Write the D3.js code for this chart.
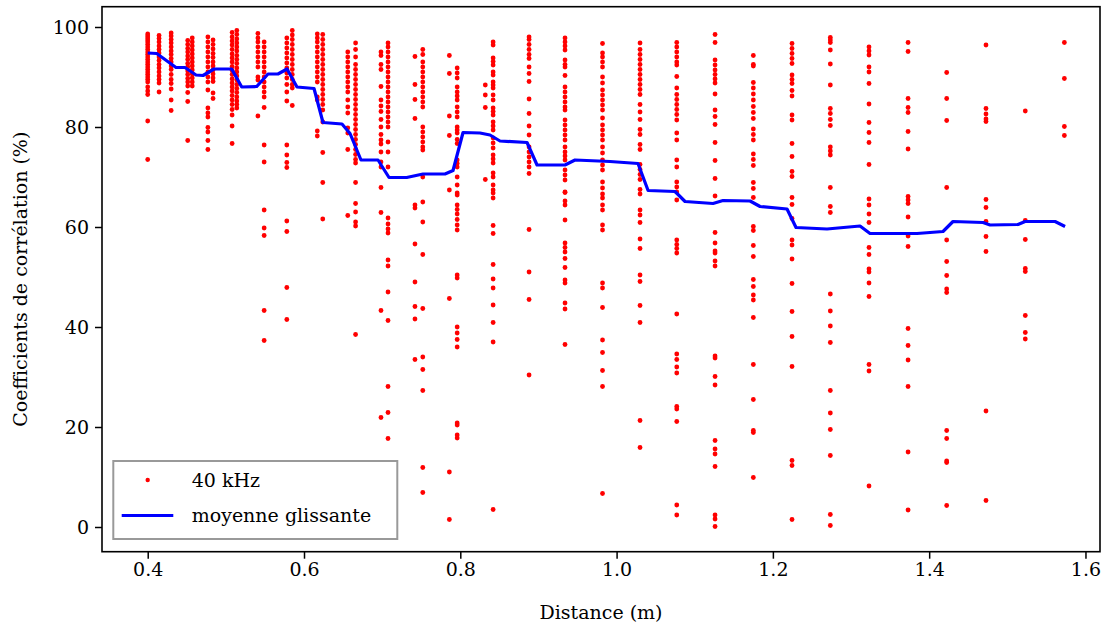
<!DOCTYPE html>
<html><head><meta charset="utf-8">
<script src="https://cdn.jsdelivr.net/npm/d3@7"></script>
<style>body{margin:0;background:#fff} svg{display:block} text{font-family:"DejaVu Serif",serif;fill:#000}</style>
</head><body><svg id="c" width="1103" height="630"></svg>
<script>
const distances = [0.400,0.4145,0.430,0.4512,0.4570,0.477,0.4836,0.508,0.514,0.541,0.549,0.578,0.585,0.617,0.624,0.656,0.666,0.6985,0.7075,0.742,0.752,0.786,0.796,0.832,0.842,0.888,0.934,0.982,1.030,1.077,1.126,1.175,1.2245,1.2735,1.323,1.373,1.4224,1.4727,1.523,1.573];
const correlations = [
 [98.6,98.2,97.8,97.4,97,96.5,96,95.5,95,94.5,94,93.5,93,92.5,92,91.5,91,90.5,90,89.5,89,88,87.2,86.5,81.2,73.5],
 [98.3,97.7,97,96.2,95.5,94.8,94,93.3,92.5,91.8,91,90.2,89.5,88.8,87],
 [98.8,98.2,97.5,96.8,96,95.2,94.5,93.7,93,92.2,91.5,90.5,89.5,88.7,87.6,85.4,83.3],
 [97.3,96.5,95.7,95,94.2,93.5,92.7,92,91.2,90.5,89.7,89,88.2,86.9,85.1,77.3],
 [97.8,97,96.2,95.4,94.6,93.8,93,92.2,91.4,90.6,89.8,89,88.2],
 [98,97,96,95,94,93,92,91,90,89,87.4,83.8,82.8,82,79.9,79,77.3,75.5],
 [97.4,96.5,95.6,94.7,93.9,93,92.2,91.4,90.6,89.8,89.1,86.8,85.7],
 [98.9,98,97.2,96.4,95.5,94.6,93.8,93,92.1,91.3,90.5,89.6,88.8,88,87.2,86.3,85.4,84.5,83.5,82.4,80.2,76.7],
 [99.3,98.5,97.6,96.8,96,95.2,94.3,93.5,92.7,91.8,91,90.2,89.4,88.5,87.7,86.9,86,85.2,84.5,83.8],
 [98.7,97.8,97,96,95,94,93,92,90,89.4,82.2],
 [97,96,95,94,93,92,91,90,89,88,87,86,83.9,76.4,73,63.4,59.8,58.3,43.3,37.3],
 [97.8,96.8,95.8,94.8,93.8,92.8,91.8,90.8,89.8,88.5,87,85.2,76.4,74.4,72.9,71.9,61.2,59.1,47.9,41.5],
 [99.3,98.4,97.5,96.5,95.5,94.5,93.5,92.5,91.5,90.5,89.5,88.5,87.8,84.3],
 [98.6,97.8,97,96,95,94,93,92,91,90,89,86,85.4,79.2,78.2],
 [98.5,97.5,96.5,95.5,94.5,93.5,92.5,91.5,90.5,89.5,88.5,87.5,86.5,85.5,84.5,83.4,81,74.9,68.9,61.6],
 [95,94,93,92,91,90,89,88,87,85.4,84,82.8,79.8,78.8,75.5,62.3],
 [96.8,95.5,94,92.5,91.5,90.5,89.5,88.5,87.5,86.5,85.5,84.5,83.5,82.5,81.5,80.5,79.5,78.5,77.5,76.5,75.5,74.5,73.5,72.8,68.9,64.7,63,61,60.2,38.5],
 [95,94.3,92.5,91.5,88.1,85.4,84.2,83.1,81.5,80,78.5,77.4,76.6,75,73,72,67.9,62.9,43.3,21.9],
 [96.8,96,95,94,93,92,91,90,89,88,87,86,85,84,83,82,81,80,77,75,72,61.8,60.6,59.6,58.8,53.4,52.2,47,41.3,28.1,22.9,17.7],
 [94.1,88.5,85.5,81.7,64.4,63.8,56.6,49,44.1,41.6,33.5],
 [95.5,94.5,93,92,91,90,89,88,87,86,85,84,80,79,78,77,76,75.4,70,65,61,54.5,43.7,34,31.5,27.3,11.9,6.9],
 [94.3,90.7,82.2,78.3,67.4,45.7,11,1.5],
 [91.8,90.8,89.8,88,87,86.2,85.4,84,83,82,80,79.4,78.8,77.5,76.7,73.4,72.7,72,70,68.4,66.8,66.4,64.4,63.5,62.6,61.5,60.4,59.4,50.4,49.8,40,38.8,37.5,36,20.8,20.4,18.4,17.8],
 [88.4,86.4,83.9,69.5],
 [97,96.4,93.8,93.1,92.4,91,90.4,89,88.4,87.8,86.4,85.4,83.8,83.1,82.4,81,80.2,79.4,77.8,76.8,75.8,74.4,73.6,72.8,70.8,70,68.4,67.4,66.8,65.8,60.3,58.7,52.5,49.6,47.8,44.4,40.9,37,3.5],
 [98,97.5,96.5,95.5,94.5,93.7,92,90.7,89.1,85.6,82.7,80.2,78.4,76,75,74,73,72,70.7,59.5,51,45.5,30.4],
 [97.8,97,96.2,95.4,93.4,92.5,92,90.3,88,87,86,85,84,83.4,81.4,80.4,79.4,78.4,77.4,76,75,74.2,73.4,71.4,70.4,69.4,67,66.9,65.2,64.4,61.4,56.8,55.9,55,53.7,51.9,49.4,48.8,44.8,43.6,36.5],
 [96.7,94.8,94,93,92,90,88.8,87.4,86.4,85.4,84.4,83.4,81.8,80.4,79.4,78.4,77.4,76,74.8,73.4,72.4,71.4,69,67.8,66.6,65.8,64.4,63.4,60.4,59.4,48.8,47.8,43.9,37.4,34.9,31.3,28.1,6.7],
 [96.8,95.5,94.5,93.5,92.5,91.5,90.5,89.5,88.5,87.5,86.5,84.5,83,81.5,79.5,78.5,76.5,75.5,72.5,71.5,70.5,69.5,67.5,66.6,63.4,62.4,60.9,57.6,55.7,50.4,49.1,44.3,40.9,21.3,15.9],
 [96.9,96,95,94,93,92.4,90.1,87.8,86.5,85.5,84.5,83.5,82.5,81.4,78.8,77.4,73.4,72,69,68,67,65.4,57.4,56.5,55.7,54.8,42.6,34.6,33.5,32,30.8,24.1,23.6,21.1,4.4,2.4],
 [98.5,96.9,93.4,92.4,91.4,90.5,89.6,88.8,86.6,83.4,82.1,80.5,76.9,73.3,69.7,66.2,58.9,56.8,55.2,54.8,53.2,52.2,34.2,33.8,30.1,28.4,17.3,15.6,14.6,12.1,2.4,1.6,0.1],
 [94.3,92.5,92.2,88.9,87.8,86.6,85.4,84.1,82.9,81.7,79.6,78.5,77.4,74.6,73.5,72.3,68.9,67.7,65.9,60.1,59.3,56.3,54.1,49.5,48.1,46.4,45.4,41.9,32.5,25.5,19.3,18.9,9.9],
 [96.7,95.7,94.7,93.7,92.7,90.4,89.5,88.7,87.3,86.2,82.4,81.4,76.7,74.1,71.1,70.1,65.9,64.5,61.7,57.4,56.4,53.6,48.7,43.1,38.1,32.1,13.3,12.3,1.5],
 [97.9,97.4,96.9,95.4,92.6,88.4,83.7,82.7,81.5,80.3,76,75.2,74.4,67.9,64.1,62.9,46.6,43.2,40.2,36.9,27.3,22.8,19.5,14.3,2.5,0.3],
 [96,95.2,94.4,92,91,88.7,84.6,80.9,78.9,76.9,72.5,65.6,64.4,62.6,60.9,55.9,54.5,51.6,51,48.8,46.1,32.5,31.2,8.2],
 [96.9,95.1,85.7,83.9,82.9,79.1,75.6,66.1,65.4,64.7,62,58.2,56.1,39.7,36.3,33.4,28.1,15,3.4],
 [90.9,85.7,81.3,67.9,57.4,53.1,50.3,47.6,46.9,19.3,17.7,13.2,12.9,4.3],
 [96.4,83.7,82.6,81.6,81.1,65.5,63.9,61.1,58.1,55.1,23.2,5.3],
 [83.2,61.3,57.5,51.7,51.1,42.3,38.9,37.6],
 [96.9,89.7,80.1,78.3]
];
const avgX = [0.400,0.4115,0.4362,0.4477,0.4618,0.4708,0.4848,0.5075,0.5203,0.5395,0.5539,0.5667,0.5783,0.5910,0.6128,0.6243,0.6486,0.6589,0.6729,0.6947,0.7088,0.7314,0.7523,0.7804,0.7907,0.8035,0.8252,0.8380,0.8508,0.8854,0.8982,0.9340,0.9468,0.9916,1.0274,1.0403,1.0748,1.0876,1.1234,1.1362,1.1708,1.1836,1.2181,1.2296,1.2693,1.3115,1.3243,1.3845,1.4177,1.4305,1.4689,1.4779,1.5137,1.5227,1.5611,1.5739];
const avgY = [94.8,94.7,91.9,91.9,90.4,90.3,91.6,91.6,88.0,88.1,90.6,90.6,91.6,88.0,87.7,80.9,80.6,78.7,73.4,73.4,69.9,69.9,70.6,70.6,71.3,78.9,78.8,78.4,77.2,76.9,72.4,72.4,73.4,73.1,72.7,67.3,67.1,65.1,64.7,65.3,65.2,64.1,63.6,59.9,59.6,60.2,58.7,58.7,59.1,61.1,60.9,60.4,60.5,61.1,61.1,60.1];
const xTicks = [0.4,0.6,0.8,1.0,1.2,1.4,1.6];
const yTicks = [0,20,40,60,80,100];
const seriesLabels = ["40 kHz","moyenne glissante"];

const svg = d3.select("#c");
const L=102, R=1100, T=6.7, B=551.7;
const x = d3.scaleLinear().domain([0.3415,1.6186]).range([L,R]);
const y = d3.scaleLinear().domain([-4.94,104.06]).range([B,T]);
const FS = 19;

const pts = [];
distances.forEach((d,i)=>correlations[i].forEach(v=>pts.push([d,v])));
svg.append("g").selectAll("circle").data(pts).join("circle")
  .attr("cx",d=>x(d[0])).attr("cy",d=>y(d[1])).attr("r",2.4).attr("fill","#ff0000");

const line = d3.line().x((d,i)=>x(avgX[i])).y((d,i)=>y(avgY[i]));
svg.append("path").datum(avgY).attr("d",line).attr("fill","none")
  .attr("stroke","#0000ff").attr("stroke-width",3.2).attr("stroke-linejoin","round");

const xa = svg.append("g").attr("transform",`translate(0,${B})`)
  .call(d3.axisBottom(x).tickValues(xTicks).tickFormat(d3.format(".1f")).tickSize(7).tickPadding(4));
const ya = svg.append("g").attr("transform",`translate(${L},0)`)
  .call(d3.axisLeft(y).tickValues(yTicks).tickFormat(d3.format("d")).tickSize(7).tickPadding(6));
[xa,ya].forEach(a=>{a.select(".domain").remove();
  a.selectAll("line").attr("stroke","#000").attr("stroke-width",1.5);
  a.selectAll("text").attr("font-family","DejaVu Serif").attr("font-size",FS).attr("fill","#000");});

svg.append("rect").attr("x",L).attr("y",T).attr("width",R-L).attr("height",B-T)
  .attr("fill","none").attr("stroke","#000").attr("stroke-width",1.6);

svg.append("text").attr("x",(L+R)/2).attr("y",619).attr("text-anchor","middle")
  .attr("font-size",FS).text("Distance (m)");
svg.append("text").attr("transform",`translate(27,${(T+B)/2}) rotate(-90)`).attr("text-anchor","middle")
  .attr("font-size",FS).text("Coefficients de corrélation (%)");

const lg = svg.append("g");
lg.append("rect").attr("x",113.3).attr("y",461).attr("width",284).attr("height",78)
  .attr("fill","#fff").attr("stroke","#999").attr("stroke-width",2);
lg.append("circle").attr("cx",147.7).attr("cy",480).attr("r",2.2).attr("fill","#ff0000");
lg.append("line").attr("x1",121.7).attr("x2",173.3).attr("y1",515.5).attr("y2",515.5)
  .attr("stroke","#0000ff").attr("stroke-width",3.2);
lg.append("text").attr("x",191.7).attr("y",487).attr("font-size",FS).text(seriesLabels[0]);
lg.append("text").attr("x",191.7).attr("y",522).attr("font-size",FS).text(seriesLabels[1]);
</script></body></html>
